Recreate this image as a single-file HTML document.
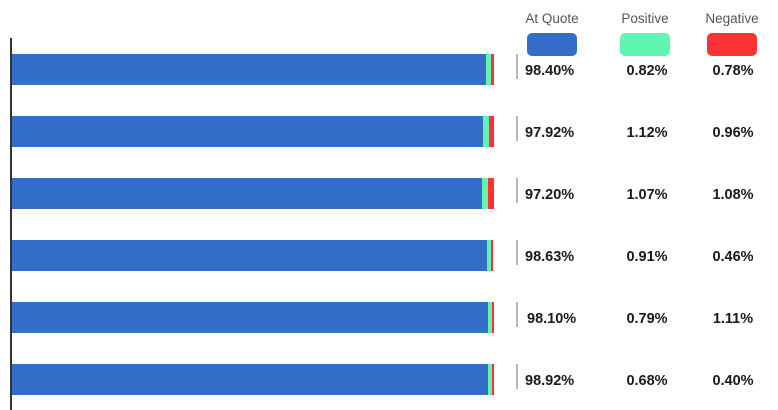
<!DOCTYPE html>
<html><head><style>
body{margin:0;width:778px;height:410px;background:#fff;font-family:"Liberation Sans",sans-serif;position:relative;overflow:hidden}
div{position:absolute}
.l{font-size:13.5px;color:#555;top:11px;text-align:center;width:80px}
.s{top:33px;width:50px;height:23px;border-radius:5px}
</style></head><body>
<div style="left:10px;top:38px;width:2px;height:372px;background:#333"></div>
<div class="l" style="left:512px">At Quote</div>
<div class="l" style="left:605px">Positive</div>
<div class="l" style="left:692px">Negative</div>
<div class="s" style="left:527px;background:#336fc8"></div>
<div class="s" style="left:620px;background:#61f5b2"></div>
<div class="s" style="left:707px;background:#fc3234"></div>
<svg width="778" height="410" style="position:absolute;left:0;top:0">
<g>
<rect x="12" y="54" width="474" height="31" fill="#336fc8"/><rect x="486" y="54" width="5" height="31" fill="#61f5b2"/><rect x="491" y="54" width="3" height="31" fill="#fc3234"/>
<rect x="12" y="116" width="471" height="31" fill="#336fc8"/><rect x="483" y="116" width="6" height="31" fill="#61f5b2"/><rect x="489" y="116" width="5" height="31" fill="#fc3234"/>
<rect x="12" y="178" width="470" height="31" fill="#336fc8"/><rect x="482" y="178" width="6" height="31" fill="#61f5b2"/><rect x="488" y="178" width="6" height="31" fill="#fc3234"/>
<rect x="12" y="240" width="475" height="31" fill="#336fc8"/><rect x="487" y="240" width="4" height="31" fill="#61f5b2"/><rect x="491" y="240" width="2" height="31" fill="#fc3234"/>
<rect x="12" y="302" width="476" height="31" fill="#336fc8"/><rect x="488" y="302" width="4" height="31" fill="#61f5b2"/><rect x="492" y="302" width="2" height="31" fill="#fc3234"/>
<rect x="12" y="364" width="476" height="31" fill="#336fc8"/><rect x="488" y="364" width="4" height="31" fill="#61f5b2"/><rect x="492" y="364" width="2" height="31" fill="#fc3234"/>
</g>
<g stroke="#888" stroke-width="1.2">
<line x1="517" y1="54" x2="517" y2="79"/><line x1="517" y1="116" x2="517" y2="141"/><line x1="517" y1="178" x2="517" y2="203"/>
<line x1="517" y1="240" x2="517" y2="265"/><line x1="517" y1="302" x2="517" y2="327"/><line x1="517" y1="364" x2="517" y2="389"/>
</g>
<g font-family="Liberation Sans, sans-serif" font-size="14.5" font-weight="bold" fill="#1a1a1a">
<text x="525" y="75">98.40%</text><text x="647" y="75" text-anchor="middle">0.82%</text><text x="733" y="75" text-anchor="middle">0.78%</text>
<text x="525" y="137">97.92%</text><text x="647" y="137" text-anchor="middle">1.12%</text><text x="733" y="137" text-anchor="middle">0.96%</text>
<text x="525" y="199">97.20%</text><text x="647" y="199" text-anchor="middle">1.07%</text><text x="733" y="199" text-anchor="middle">1.08%</text>
<text x="525" y="261">98.63%</text><text x="647" y="261" text-anchor="middle">0.91%</text><text x="733" y="261" text-anchor="middle">0.46%</text>
<text x="527" y="323">98.10%</text><text x="647" y="323" text-anchor="middle">0.79%</text><text x="733" y="323" text-anchor="middle">1.11%</text>
<text x="525" y="385">98.92%</text><text x="647" y="385" text-anchor="middle">0.68%</text><text x="733" y="385" text-anchor="middle">0.40%</text>
</g>
</svg>
</body></html>
